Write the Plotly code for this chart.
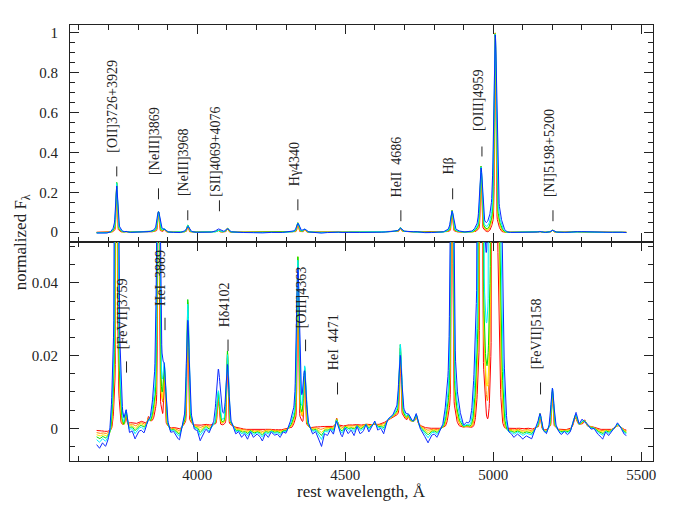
import numpy as np
import plotly.graph_objects as go
from plotly.subplots import make_subplots

# emission lines: rest wavelength (A)
line_wl = [3727.5, 3759, 3835, 3869, 3889, 3968, 4071, 4102, 4340, 4363, 4471,
           4686, 4713, 4740, 4861, 4959, 5007, 5158, 5200, 5276, 5309]
# relative width of each line
line_wscale = [0.7, 1, 1, 1, 1, 1, 1.3, 1, 1, 1, 1,
               1, 1, 1, 1, 1, 1, 1, 1, 1.5, 1.5]

# peak amplitude of each line, one list per spectrum
amp_red    = [0.250, 0.003, 0.0015, 0.104, 0.014, 0.033, 0.008, 0.019, 0.046, 0.015, 0.002,
              0.018, 0.0015, 0.0015, 0.108, 0.330, 1.000, 0.004, 0.010, 0.002, 0.0015]
amp_orange = [0.252, 0.0035, 0.0015, 0.104, 0.014, 0.034, 0.0085, 0.020, 0.046, 0.015, 0.002,
              0.019, 0.0015, 0.0015, 0.108, 0.330, 1.000, 0.004, 0.010, 0.002, 0.0015]
amp_yellow = [0.254, 0.004, 0.0015, 0.104, 0.014, 0.035, 0.009, 0.021, 0.047, 0.0155, 0.002,
              0.019, 0.0015, 0.0015, 0.108, 0.330, 0.998, 0.004, 0.010, 0.002, 0.0015]
amp_green  = [0.256, 0.004, 0.0015, 0.103, 0.014, 0.036, 0.0095, 0.021, 0.047, 0.016, 0.002,
              0.020, 0.0015, 0.0015, 0.108, 0.330, 0.996, 0.004, 0.0105, 0.002, 0.0015]
amp_cyan   = [0.250, 0.0045, 0.0015, 0.103, 0.013, 0.035, 0.010, 0.020, 0.046, 0.016, 0.002,
              0.020, 0.0015, 0.0015, 0.107, 0.328, 0.994, 0.004, 0.011, 0.002, 0.0015]
amp_blue   = [0.236, 0.0045, 0.0015, 0.102, 0.010, 0.031, 0.016, 0.017, 0.044, 0.014, 0.002,
              0.017, 0.0015, 0.0015, 0.105, 0.322, 0.990, 0.004, 0.011, 0.002, 0.0015]

# line profile per spectrum: narrow core + broad base (FWHM in A)
core_fwhm = [5, 6, 7, 8, 9, 11]
wing_fwhm = [21, 23.5, 26, 28, 30.5, 33]
wing_frac = [0.08, 0.12, 0.11, 0.12, 0.15, 0.2]
noise_mix = [0.0, 0.15, 0.3, 0.45, 0.65, 1.0]
colors = ["#ff0000", "#ff8c00", "#ffe600", "#00e000", "#00f0ff", "#0a28ff"]

# continuum level (units of 1e-3) every 10 A from 3660 to 5450
cont_red = [
    -0.6, -0.8, -0.7, -0.9, -0.8, -0.5, -0.3, 0.0, 0.5, 1.0,      # 3660
    0.5, 1.5, 1.5, 1.2, 1.5, 2.0, 1.5, 1.5, 2.0, 1.5,             # 3760
    1.0, 0.5, 0.5, 0.5, 0.2, 0.0, 0.3, 0.0, -0.2, 0.2,            # 3860
    0.0, 0.0, 0.5, 0.8, 1.0, 0.8, 1.0, 1.2, 0.8, 1.0,             # 3960
    0.8, 0.5, 0.5, 0.3, 0.3, 0.2, 0.5, 0.3, 0.0, 0.0,             # 4060
    -0.3, -0.3, -0.3, -0.5, -0.5, -0.3, -0.5, -0.3, -0.2, -0.3,   # 4160
    -0.5, -0.3, -0.5, -0.3, -0.2, 0.0, 0.0, 0.2, 0.2, 0.2,        # 4260
    0.2, 0.2, 0.0, 0.3, 0.5, 0.3, 0.5, 0.5, 0.5, 0.3,             # 4360
    0.5, 0.8, 0.8, 0.5, 0.8, 1.0, 0.8, 1.0, 1.0, 0.8,             # 4460
    1.0, 1.2, 1.0, 1.0, 1.2, 1.0, 1.2, 1.5, 2.0, 2.5,             # 4560
    3.0, 3.0, 3.0, 3.0, 2.5, 2.0, 2.0, 1.8, 2.0, 1.0,             # 4660
    0.5, 0.2, 0.0, 0.0, 0.0, -0.2, 0.0, 0.2, 0.3, 0.5,            # 4760
    0.5, 0.5, 0.5, 0.5, 0.3, 0.5, 0.3, 0.2, 0.2, 0.2,             # 4860
    0.2, 0.2, 0.2, 0.2, 0.2, 0.2, 0.2, 0.2, 0.0, 0.0,             # 4960
    0.0, -0.2, 0.0, 0.0, -0.2, 0.0, 0.0, -0.3, 0.0, 0.0,          # 5060
    0.0, -0.5, -0.5, 0.0, 0.0, 0.0, -0.3, -0.3, -0.5, -0.3,       # 5160
    -0.3, 0.5, 1.5, 1.0, 1.0, 0.8, 0.5, 0.5, 0.3, 0.0,            # 5260
    -0.3, -0.3, -0.3, -0.5, -0.3, 0.0, 0.8, 0.5, -0.3, -0.5,      # 5360
]
cont_blue = [
    -4.5, -5.5, -4.0, -5.0, -3.5, -3.0, -2.5, -2.0, -1.0, -1.5,   # 3660
    0.5, -2.0, -1.0, -3.0, -1.0, -0.5, -1.5, 0.0, -0.5, 0.5,      # 3760
    0.5, 0.0, 0.0, 0.0, -1.0, -2.0, -1.0, -2.5, -4.0, -1.5,       # 3860
    -2.5, -1.0, -1.0, -2.0, -1.0, -3.5, -1.5, -0.5, -2.0, -1.0,   # 3960
    -0.5, 0.0, 0.0, -0.5, 0.0, -1.0, -0.5, -2.0, -1.0, -2.5,      # 4060
    -1.5, -3.0, -1.0, -2.5, -1.5, -2.0, -3.5, -1.5, -2.5, -1.0,   # 4160
    -2.0, -1.5, -2.5, -1.0, -1.5, 0.0, 0.5, -0.5, -0.5, -0.5,     # 4260
    -0.5, -0.5, -1.0, -2.0, -1.0, -3.0, -5.0, -1.5, -2.0, -0.5,   # 4360
    -2.0, 0.0, -1.5, -2.5, 0.0, -1.5, -0.5, -2.0, 0.5, -1.5,      # 4460
    -1.0, 1.0, -1.0, 0.5, 2.0, -0.5, 0.0, -1.5, 2.0, 3.0,         # 4560
    3.0, 3.5, 3.0, 3.0, 2.5, 2.0, 2.0, 1.5, 2.5, 0.0,             # 4660
    -1.0, -2.5, -4.0, -2.0, -1.5, -2.5, -1.0, -0.5, 0.5, 0.5,     # 4760
    0.5, 0.5, 1.0, 1.5, 0.5, 1.5, 0.5, 0.0, 0.0, 0.0,             # 4860
    0.0, 0.0, 0.0, 0.0, 0.0, 0.0, 0.0, 0.0, -1.0, -2.0,           # 4960
    -1.5, -2.5, -1.5, -2.0, -3.0, -2.0, -2.5, -3.0, -1.0, 0.0,    # 5060
    0.0, -1.5, -2.5, -1.0, 0.0, -0.5, -1.5, -2.0, -1.0, -2.0,     # 5160
    -1.5, 0.5, 2.5, 0.5, 1.5, 0.0, 0.5, -0.5, 0.0, -1.5,          # 5260
    -2.0, -3.0, -1.0, -2.0, -1.0, 0.0, 1.5, 0.5, -1.5, -2.0,      # 5360
]

# line labels
top_labels = ["[OII]3726+3929", "[NeIII]3869", "[NeIII]3968", "[SII]4069+4076", "H\u03b34340",
              "HeII  4686", "H\u03b2", "[OIII]4959", "[NI]5198+5200"]
top_label_wl = [3728, 3869, 3968, 4075, 4340, 4688, 4863, 4962, 5202]
bot_labels = ["[FeVII]3759", "HeI  3889", "H\u03b44102", "[OIII]4363", "HeI  4471", "[FeVII]5158"]
bot_label_wl = [3761, 3891, 4104, 4366, 4474, 5160]

# label placement (dash bottom, dash top, text bottom)
top_label_pos = [(0.28, 0.33, 0.39), (0.165, 0.22, 0.28), (0.06, 0.11, 0.17),
                 (0.105, 0.16, 0.17), (0.11, 0.165, 0.22), (0.055, 0.11, 0.166),
                 (0.165, 0.22, 0.28), (0.38, 0.43, 0.50), (0.055, 0.11, 0.166)]
bot_label_pos = [(0.0153, 0.0184, 0.0212), (0.027, 0.0304, 0.0331), (0.0212, 0.0244, 0.0271),
                 (0.0212, 0.0244, 0.027), (0.0093, 0.0126, 0.0153), (0.0093, 0.0126, 0.0157)]

amps = [amp_red, amp_orange, amp_yellow, amp_green, amp_cyan, amp_blue]
wl = np.arange(3660, 5451, 1.0)
cont_wl = np.arange(3660, 5451, 10.0)
c_red = np.interp(wl, cont_wl, np.array(cont_red) * 1e-3)
c_blue = np.interp(wl, cont_wl, np.array(cont_blue) * 1e-3)


def gauss(x, c, fw):
    return np.exp(-4 * np.log(2) * ((x - c) / fw) ** 2)


def spectrum(k):
    flux = c_red + noise_mix[k] * (c_blue - c_red)
    w = wing_frac[k]
    for c, ws, a in zip(line_wl, line_wscale, amps[k]):
        flux = flux + a * ((1 - w) * gauss(wl, c, core_fwhm[k] * ws)
                           + w * gauss(wl, c, wing_fwhm[k] * ws))
    return flux


fig = make_subplots(rows=2, cols=1, shared_xaxes=True, vertical_spacing=0,
                    row_heights=[0.498, 0.502])

for k in range(6):
    f = spectrum(k)
    for row in (1, 2):
        fig.add_trace(go.Scatter(x=wl, y=f, mode="lines",
                                 line=dict(color=colors[k], width=1),
                                 showlegend=False, hoverinfo="skip"), row=row, col=1)

font = "Liberation Serif, DejaVu Serif, serif"
ink = "#222222"

for lab, x, (d0, d1, tb) in zip(top_labels, top_label_wl, top_label_pos):
    fig.add_shape(type="line", xref="x", yref="y", x0=x, x1=x, y0=d0, y1=d1,
                  line=dict(color=ink, width=1))
    fig.add_annotation(xref="x", yref="y", x=x, y=tb, text=lab, textangle=-90,
                       showarrow=False, xanchor="center", yanchor="bottom",
                       xshift=-4, font=dict(family=font, size=14, color=ink))

for lab, x, (d0, d1, tb) in zip(bot_labels, bot_label_wl, bot_label_pos):
    fig.add_shape(type="line", xref="x2", yref="y2", x0=x, x1=x, y0=d0, y1=d1,
                  line=dict(color=ink, width=1))
    fig.add_annotation(xref="x2", yref="y2", x=x, y=tb, text=lab, textangle=-90,
                       showarrow=False, xanchor="center", yanchor="bottom",
                       xshift=-4, font=dict(family=font, size=14, color=ink))

axis_common = dict(showline=True, linecolor=ink, linewidth=1, mirror="ticks",
                   ticks="inside", tickcolor=ink, ticklen=9, showgrid=False,
                   zeroline=False, automargin=False,
                   tickfont=dict(family=font, size=15, color=ink))

fig.update_xaxes(range=[3570, 5540], tick0=0, dtick=500,
                 minor=dict(dtick=100, ticks="inside", ticklen=5, tickcolor=ink),
                 **axis_common)
fig.update_xaxes(showticklabels=False, row=1, col=1)
fig.update_yaxes(range=[-0.05, 1.04], tick0=0, dtick=0.2,
                 minor=dict(dtick=0.05, ticks="inside", ticklen=5, tickcolor=ink),
                 ticklabelstandoff=8, row=1, col=1, **axis_common)
fig.update_yaxes(range=[-0.009, 0.0512], tick0=0, dtick=0.02,
                 minor=dict(dtick=0.005, ticks="inside", ticklen=5, tickcolor=ink),
                 ticklabelstandoff=8, row=2, col=1, **axis_common)

fig.add_annotation(xref="paper", yref="paper", x=0.5, y=-0.071, text="rest wavelength, \u00c5",
                   showarrow=False, xanchor="center", yanchor="middle",
                   font=dict(family=font, size=17, color=ink))
fig.add_annotation(xref="paper", yref="paper", x=-0.082, y=0.502,
                   text="normalized F<sub>\u03bb</sub>", textangle=-90,
                   showarrow=False, xanchor="center", yanchor="middle",
                   font=dict(family=font, size=17, color=ink))

fig.update_layout(width=694, height=519, margin=dict(l=62, r=49, t=17, b=66),
                  plot_bgcolor="white", paper_bgcolor="white")

fig.write_html("out.html")
